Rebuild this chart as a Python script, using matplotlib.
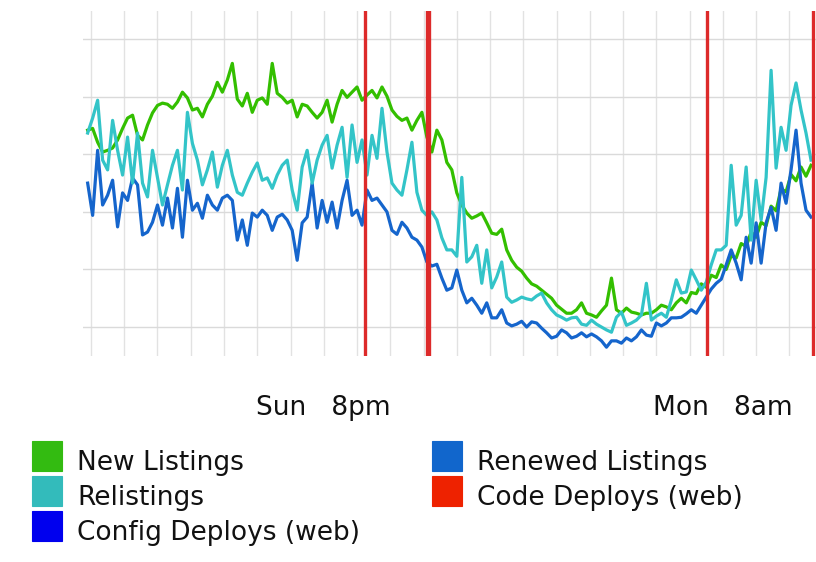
import numpy as np
import matplotlib.pyplot as plt
from matplotlib.patches import Rectangle

# time axis in hours after Sun 1pm, one sample every 9 minutes
start_hour = -0.1
step_hours = 9 / 60

new_listings = [
    44.2, 44.5, 42.1, 40.4, 40.7, 41.1, 42.5, 44.5, 46.3, 46.8,
    43.3, 42.5, 45.1, 47.2, 48.5, 48.9, 48.7, 48.0, 49.1, 50.8,
    49.8, 47.7, 48.0, 46.5, 48.7, 50.1, 52.5, 50.8, 52.9, 55.8,
    49.6, 48.4, 50.6, 47.3, 49.4, 49.8, 48.7, 55.8, 50.6, 49.9,
    48.9, 49.4, 46.5, 48.7, 48.4, 47.3, 46.3, 47.3, 49.4, 45.6,
    48.7, 51.1, 49.9, 50.8, 51.7, 49.4, 50.3, 51.1, 49.8, 51.7,
    50.1, 47.7, 46.6, 45.9, 46.3, 44.2, 45.9, 47.3, 43.0, 40.4,
    44.2, 42.5, 38.6, 37.3, 33.3, 31.2, 29.8, 28.9, 29.3, 29.8,
    28.1, 26.3, 26.1, 27.0, 23.4, 21.6, 20.4, 19.7, 18.5, 17.5,
    17.1, 16.4, 15.7, 15.0, 13.8, 13.1, 12.4, 12.4, 13.0, 14.2,
    12.4, 12.1, 11.7, 12.8, 13.8, 18.5, 13.0, 12.4, 13.3, 12.6,
    12.4, 12.1, 12.4, 12.4, 13.0, 13.8, 13.5, 13.0, 14.2, 15.0,
    14.2, 16.0, 15.8, 17.5, 16.9, 19.0, 18.6, 20.8, 20.0, 22.4,
    22.0, 24.5, 24.0, 26.5, 25.6, 28.2, 27.6, 31.0, 30.2, 34.0,
    33.5, 36.5, 35.4, 37.8, 36.2, 38.1,
]

relistings = [
    43.7, 46.3, 49.4, 39.0, 37.3, 45.9, 40.7, 36.4, 43.0, 35.0,
    43.7, 35.0, 32.6, 40.7, 36.0, 31.2, 34.7, 38.1, 40.7, 33.8,
    47.3, 41.9, 39.0, 34.7, 37.3, 40.4, 34.3, 38.1, 40.7, 36.4,
    33.4, 32.9, 35.0, 36.9, 38.5, 35.5, 35.9, 34.1, 36.4, 38.1,
    39.0, 33.8, 30.3, 37.8, 40.7, 35.0, 39.0, 41.6, 43.3, 37.6,
    41.6, 44.7, 36.0, 45.1, 38.6, 42.5, 36.4, 43.3, 39.3, 48.0,
    40.4, 35.0, 33.8, 32.9, 37.3, 42.1, 33.4, 30.3, 29.4, 30.0,
    28.6, 25.5, 23.4, 23.4, 22.3, 36.0, 21.3, 22.2, 24.2, 17.6,
    23.4, 16.8, 18.7, 21.3, 15.2, 14.3, 14.7, 15.2, 14.9, 14.7,
    15.4, 15.9, 14.2, 13.0, 12.1, 11.7, 11.2, 11.6, 11.7, 10.5,
    10.3, 11.2, 10.5, 10.0, 9.5, 9.1, 11.7, 12.6, 10.3, 10.7,
    11.2, 12.1, 17.6, 11.2, 11.9, 12.4, 11.7, 14.7, 18.2, 15.9,
    16.1, 19.9, 18.2, 16.4, 17.8, 20.8, 23.4, 23.4, 24.2, 38.1,
    27.7, 29.4, 37.8, 25.1, 35.5, 28.6, 36.0, 54.6, 37.6, 44.7,
    40.7, 48.5, 52.4, 47.7, 43.7, 39.0,
]

renewed_listings = [
    35.0, 29.4, 40.7, 31.2, 32.9, 35.5, 27.4, 33.3, 32.0, 35.9,
    34.7, 26.0, 26.5, 28.2, 31.2, 27.7, 32.4, 27.2, 34.1, 25.6,
    35.5, 30.3, 31.5, 28.9, 32.9, 31.2, 30.3, 32.4, 32.9, 32.0,
    25.1, 28.6, 24.2, 29.8, 29.1, 30.3, 29.4, 26.8, 29.1, 29.6,
    28.6, 26.8, 21.6, 28.1, 29.1, 35.0, 27.2, 32.0, 28.2, 31.7,
    27.2, 32.0, 35.5, 29.4, 30.3, 27.7, 33.8, 32.0, 32.4, 31.2,
    30.0, 26.8, 26.1, 28.2, 27.2, 25.6, 25.1, 23.9, 21.3, 20.6,
    20.9, 18.5, 16.4, 16.8, 19.9, 16.4, 14.2, 15.0, 13.8, 12.4,
    14.2, 11.6, 11.6, 13.0, 10.7, 10.2, 10.5, 11.0, 10.0, 10.9,
    10.7, 9.8, 9.0, 8.1, 8.4, 9.5, 9.0, 8.1, 8.4, 9.0,
    8.3, 8.8, 8.3, 7.6, 6.5, 7.6, 7.6, 7.2, 8.1, 7.6,
    8.3, 9.5, 8.6, 8.4, 10.7, 10.2, 10.7, 11.6, 11.6, 11.7,
    12.3, 13.0, 12.4, 13.8, 15.2, 16.6, 17.6, 18.3, 20.8, 23.4,
    21.1, 18.2, 25.6, 21.1, 28.1, 21.1, 28.1, 30.8, 26.8, 35.0,
    31.5, 37.3, 44.2, 35.0, 30.3, 29.1,
]

# deploy times, hours after Sun 1pm
code_deploys = [8.24, 10.10, 10.17, 18.53, 21.71]
config_deploys = []

tick_hours = [7, 19]
tick_labels = ['Sun   8pm', 'Mon   8am']

legend_labels = ['New Listings', 'Relistings', 'Config Deploys (web)',
                 'Renewed Listings', 'Code Deploys (web)']
legend_colors = ['#33bb11', '#33bbbb', '#0000ee', '#1166cc', '#ee2200']

hours = start_hour + step_hours * np.arange(len(new_listings))

W, H = 816, 562
fig = plt.figure(figsize=(W / 100, H / 100), dpi=100)
ax = fig.add_axes([83 / W, 206 / H, 733 / W, 345 / H])

ax.plot(hours, new_listings, color='#33bf00', lw=2.3)
ax.plot(hours, renewed_listings, color='#1565cc', lw=2.3)
ax.plot(hours, relistings, color='#33c4c8', lw=2.3)
for h in code_deploys:
    ax.axvline(h, color='#dd2a2a', lw=2.4)
for h in config_deploys:
    ax.axvline(h, color='#0000ee', lw=2.4)

ax.set_xlim(-0.24, 21.80)
ax.set_ylim(4.97, 64.9)

# hourly vertical grid, horizontal grid every 10 units
ax.set_xticks(np.arange(0, 22), minor=True)
ax.set_xticks(tick_hours)
ax.set_xticklabels(tick_labels, fontsize=19, color='#111111')
ax.set_yticks(np.arange(10, 61, 10))
ax.set_yticklabels([])
ax.grid(True, which='both', axis='x', color='#e2e2e2', lw=1.0)
ax.grid(True, axis='y', color='#dadada', lw=1.0)
ax.set_axisbelow(True)
ax.tick_params(which='both', length=0)
ax.tick_params(axis='x', pad=28)
for s in ax.spines.values():
    s.set_visible(False)

# two-column legend below the plot, filled column by column
for i, (label, color) in enumerate(zip(legend_labels, legend_colors)):
    col, row = divmod(i, 3)
    x0 = 32 if col == 0 else 432
    top = 441 + 35 * row
    fig.add_artist(Rectangle((x0 / W, 1 - (top + 30) / H), 30 / W, 30 / H,
                             transform=fig.transFigure, facecolor=color,
                             edgecolor=color, lw=0.8))
    fig.text((x0 + 45) / W, 1 - (top + 29) / H, label, fontsize=19,
             color='#111111', va='baseline', ha='left')

fig.savefig('out.png', dpi=100)
